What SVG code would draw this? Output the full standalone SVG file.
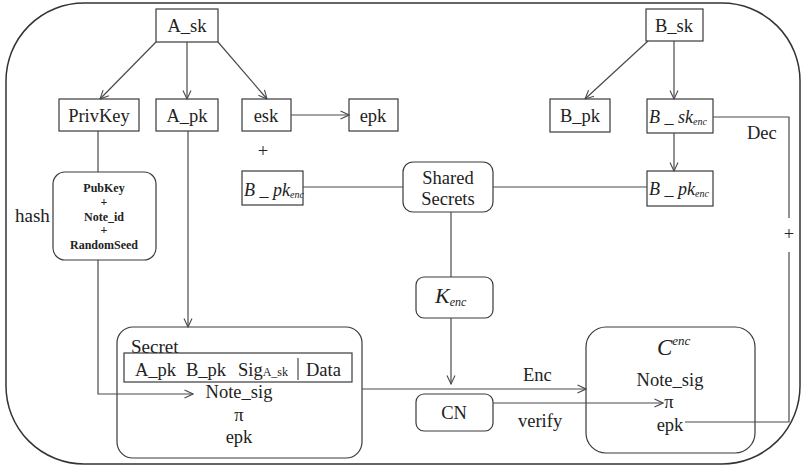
<svg xmlns="http://www.w3.org/2000/svg" width="803" height="468" viewBox="0 0 803 468">
  <style>
    .box { fill: #fff; stroke: #3a3a3a; stroke-width: 1.2; }
    .ln { fill: none; stroke: #4a4a4a; stroke-width: 1.2; }
    .arr { marker-end: url(#ah); }
    .t { font-size: 18.5px; text-anchor: middle; }
    .it { font-style: italic; }
    .sm { font-size: 12px; font-weight: bold; text-anchor: middle; }
  </style>
  <defs>
    <marker id="ah" viewBox="0 0 10 10" refX="9.5" refY="5" markerWidth="10" markerHeight="10" markerUnits="userSpaceOnUse" orient="auto">
      <path d="M1,1 L9.5,5 L1,9" fill="none" stroke="#4a4a4a" stroke-width="1.1"/>
    </marker>
  </defs>

  <g font-family="'Liberation Serif', 'Times New Roman', serif" fill="#222">
  <!-- outer frame -->
  <rect x="6" y="3" width="794" height="461" rx="78" ry="78" fill="none" stroke="#333" stroke-width="1.5"/>

  <g id="A_sk"><rect class="box" x="156" y="9" width="62" height="33"/><text class="t" x="187" y="32">A_sk</text></g>
  <g id="PrivKey"><rect class="box" x="59" y="99" width="80" height="32"/><text class="t" x="99" y="122">PrivKey</text></g>
  <g id="A_pk"><rect class="box" x="156" y="99" width="62" height="32"/><text class="t" x="187" y="122">A_pk</text></g>
  <g id="esk"><rect class="box" x="242" y="99" width="49" height="32"/><text class="t" x="266" y="122">esk</text></g>
  <g id="epk"><rect class="box" x="349" y="99" width="49" height="32"/><text class="t" x="373" y="122">epk</text></g>

  <g id="B_pk_enc_left"><rect class="box" x="242" y="171" width="61" height="34"/>
    <text x="244" y="196" font-size="18" class="it">B _ pk<tspan font-size="10" dy="2">enc</tspan></text></g>

  <g id="PubKey"><rect class="box" x="53" y="172" width="103" height="88" rx="12"/>
    <text class="sm" x="104" y="192">PubKey</text>
    <text class="sm" x="104" y="206">+</text>
    <text class="sm" x="104" y="221">Note_id</text>
    <text class="sm" x="104" y="234">+</text>
    <text class="sm" x="104" y="249">RandomSeed</text></g>

  <g id="SharedSecrets"><rect class="box" x="403" y="162" width="90" height="50" rx="10"/>
    <text class="t" x="448" y="184">Shared</text><text class="t" x="448" y="205">Secrets</text></g>

  <g id="B_sk"><rect class="box" x="646" y="9" width="57" height="32"/><text class="t" x="674" y="32">B_sk</text></g>
  <g id="B_pk"><rect class="box" x="550" y="99" width="60" height="33"/><text class="t" x="580" y="122">B_pk</text></g>
  <g id="B_sk_enc"><rect class="box" x="647" y="99" width="66" height="34"/>
    <text x="649" y="123" font-size="18" class="it">B _ sk<tspan font-size="10" dy="2">enc</tspan></text></g>
  <g id="B_pk_enc"><rect class="box" x="647" y="171" width="66" height="35"/>
    <text x="649" y="195" font-size="18" class="it">B _ pk<tspan font-size="10" dy="2">enc</tspan></text></g>

  <g id="K_enc"><rect class="box" x="416" y="277" width="77" height="41" rx="8"/>
    <text x="435" y="303" font-size="22" class="it">K<tspan font-size="12" dy="3">enc</tspan></text></g>
  <g id="CN"><rect class="box" x="416" y="394" width="77" height="37" rx="8"/><text class="t" x="454" y="419">CN</text></g>

  <g id="Secret"><rect class="box" x="117" y="327" width="245" height="131" rx="16"/>
    <text x="131" y="353" font-size="19">Secret</text>
    <rect x="124" y="353" width="228" height="29" fill="none" stroke="#3a3a3a" stroke-width="1.2"/>
    <line class="ln" x1="298" y1="358" x2="298" y2="380"/>
    <text x="135" y="376" font-size="18.5">A_pk</text>
    <text x="186" y="376" font-size="18.5">B_pk</text>
    <text x="238" y="376" font-size="18.5">Sig<tspan font-size="12">A_sk</tspan></text>
    <text x="306" y="376" font-size="18.5">Data</text>
    <text class="t" x="239" y="398">Note_sig</text>
    <text class="t" x="239" y="421">π</text>
    <text class="t" x="239" y="443">epk</text></g>

  <g id="C_enc"><rect class="box" x="586" y="327" width="169" height="126" rx="20"/>
    <text x="657" y="355" font-size="23" class="it">C<tspan font-size="13" dy="-10">enc</tspan></text>
    <text class="t" x="670" y="386">Note_sig</text>
    <text class="t" x="669" y="408">π</text>
    <text class="t" x="670" y="431">epk</text></g>

  <!-- connectors -->
  <g id="connectors">
    <line class="ln arr" x1="156" y1="42" x2="100" y2="99"/>
    <line class="ln arr" x1="187" y1="42" x2="187" y2="99"/>
    <line class="ln arr" x1="218" y1="42" x2="267" y2="99"/>
    <line class="ln arr" x1="291" y1="115" x2="349" y2="115"/>
    <line class="ln" x1="98" y1="131" x2="98" y2="172"/>
    <polyline class="ln arr" points="98,260 98,394 193,394"/>
    <line class="ln arr" x1="188" y1="131" x2="188" y2="327"/>
    <line class="ln" x1="303" y1="187" x2="403" y2="187"/>
    <line class="ln" x1="493" y1="187" x2="647" y2="187"/>
    <line class="ln arr" x1="648" y1="41" x2="585" y2="99"/>
    <line class="ln arr" x1="674" y1="41" x2="674" y2="99"/>
    <line class="ln arr" x1="674" y1="133" x2="674" y2="171"/>
    <line class="ln" x1="451" y1="212" x2="451" y2="277"/>
    <line class="ln arr" x1="451" y1="318" x2="451" y2="384"/>
    <line class="ln arr" x1="362" y1="389" x2="586" y2="389"/>
    <line class="ln arr" x1="493" y1="403" x2="663" y2="403"/>
    <polyline class="ln" points="713,117 789,117 789,218"/>
    <polyline class="ln" points="789,252 789,422 685,422"/>
    <text class="t" x="263" y="157">+</text>
    <text class="t" x="789" y="240" font-size="16">+</text>
    <text x="15" y="222" font-size="19">hash</text>
    <text x="747" y="139" font-size="18.5">Dec</text>
    <text x="523" y="381" font-size="18.5">Enc</text>
    <text x="518" y="427" font-size="18.5">verify</text>
  </g>
  </g>
</svg>
